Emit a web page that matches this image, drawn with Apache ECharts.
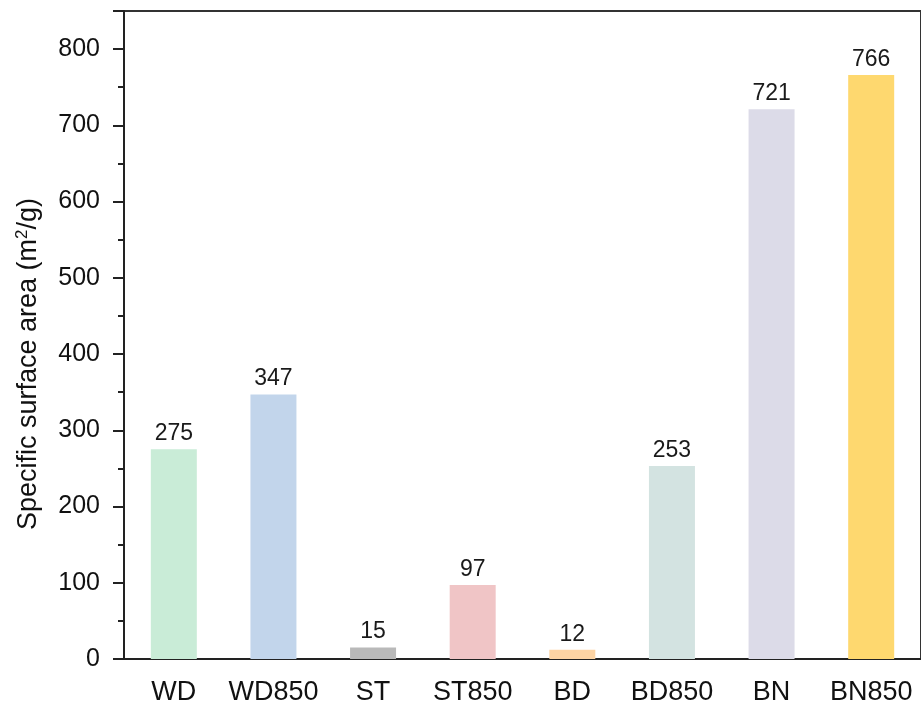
<!DOCTYPE html>
<html>
<head>
<meta charset="utf-8">
<script src="https://cdn.jsdelivr.net/npm/echarts@6/dist/echarts.min.js"></script>
<style>html,body{margin:0;padding:0;background:#fff;}#c{width:921px;height:708px;}</style>
</head>
<body>
<div id="c"></div>
<script>
var categories = ['WD', 'WD850', 'ST', 'ST850', 'BD', 'BD850', 'BN', 'BN850'];
var values = [275, 347, 15, 97, 12, 253, 721, 766];
var colors = ['#c9ecd7', '#c2d5eb', '#b9b9b9', '#f0c5c6', '#fdd4a4', '#d3e3e1', '#dcdbe8', '#fed86f'];
var yTicks = [0, 100, 200, 300, 400, 500, 600, 700, 800];

var chart = echarts.init(document.getElementById('c'), null, {renderer: 'canvas'});
var font = '"Liberation Sans", Arial, sans-serif';
chart.setOption({
  animation: false,
  backgroundColor: '#fff',
  textStyle: {fontFamily: font},
  grid: {left: 124, top: 11, bottom: 49, width: 804, show: true, borderColor: '#333', borderWidth: 2, backgroundColor: 'transparent'},
  xAxis: {
    type: 'category',
    data: categories,
    boundaryGap: true,
    axisLine: {lineStyle: {color: '#222', width: 2}},
    axisTick: {show: false},
    axisLabel: {color: '#111', fontSize: 27, margin: 20, interval: 0, hideOverlap: false, fontFamily: font}
  },
  yAxis: {
    type: 'value',
    min: 0,
    max: 850,
    interval: 100,
    name: 'Specific surface area (m{sup|2}/g)',
    nameLocation: 'middle',
    nameGap: 80,
    nameTextStyle: {
      color: '#111', fontSize: 27, fontFamily: font, lineHeight: 30, padding: [0, 58, 0, 0],
      rich: {sup: {fontSize: 17, verticalAlign: 'top', lineHeight: 30, color: '#111', fontFamily: font, padding: [0, 0, 10, 0]}}
    },
    axisLine: {show: true, lineStyle: {color: '#222', width: 2}},
    axisTick: {show: true, length: 11, lineStyle: {color: '#222', width: 2}},
    minorTick: {show: true, splitNumber: 2, length: 6, lineStyle: {color: '#222', width: 2}},
    splitLine: {show: false},
    axisLabel: {
      color: '#111', fontSize: 25, margin: 24, fontFamily: font, showMaxLabel: false,
      formatter: function (v) { return yTicks.indexOf(v) >= 0 ? String(v) : ''; }
    }
  },
  series: [{
    type: 'bar',
    barWidth: 46,
    data: values.map(function (v, i) { return {value: v, itemStyle: {color: colors[i]}}; }),
    label: {show: true, position: 'top', distance: 4, color: '#1a1a1a', fontSize: 23, fontFamily: font}
  }]
});
</script>
</body>
</html>
